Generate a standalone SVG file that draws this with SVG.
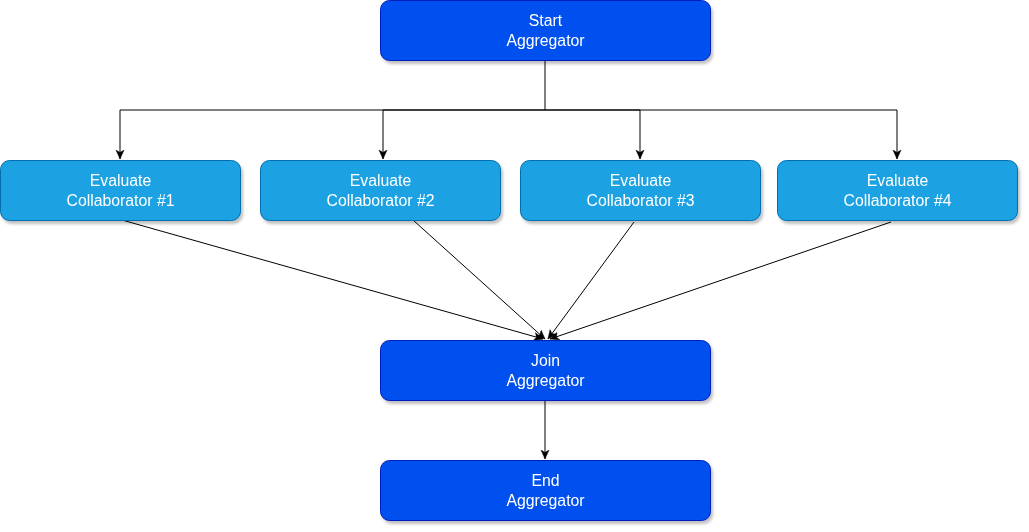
<svg xmlns="http://www.w3.org/2000/svg" width="1029" height="532" viewBox="0 0 1029 532">
<style>
.agg{fill:#0050EF;stroke:#001DBC;stroke-width:1}
.col{fill:#1BA1E2;stroke:#006EAF;stroke-width:1}
.t{font-family:"Liberation Sans",Arial,sans-serif;font-size:15.8px;fill:#ffffff;text-anchor:middle}
.e{fill:none;stroke:#000000;stroke-width:1}
</style>
<defs>
<filter id="sh" x="-10%" y="-10%" width="120%" height="140%">
<feGaussianBlur in="SourceAlpha" stdDeviation="1.5"/>
<feOffset dx="2" dy="3" result="b"/>
<feComponentTransfer><feFuncA type="linear" slope="0.25"/></feComponentTransfer>
<feMerge><feMergeNode/><feMergeNode in="SourceGraphic"/></feMerge>
</filter>
<marker id="arr" viewBox="0 0 10 10" refX="9" refY="5" markerWidth="10" markerHeight="10" markerUnits="userSpaceOnUse" orient="auto">
<path d="M0,1 L9,5 L0,9 L2.5,5 Z" fill="#000" stroke="#000" stroke-width="0.5"/>
</marker>
</defs>
<g id="connectors">
<path class="e" d="M545,60 V110 H120 V159" marker-end="url(#arr)"/>
<path class="e" d="M545,110 H383 V159" marker-end="url(#arr)"/>
<path class="e" d="M545,110 H640 V159" marker-end="url(#arr)"/>
<path class="e" d="M545,110 H897 V159" marker-end="url(#arr)"/>
<path class="e" d="M122,220 L543,339" marker-end="url(#arr)"/>
<path class="e" d="M413,220 L545,339" marker-end="url(#arr)"/>
<path class="e" d="M634,222 L548,339" marker-end="url(#arr)"/>
<path class="e" d="M891,222 L550,339" marker-end="url(#arr)"/>
<path class="e" d="M545,400 V459" marker-end="url(#arr)"/>
</g>
<g id="start" filter="url(#sh)">
<rect class="agg" x="380.5" y="0.5" width="330" height="60" rx="9"/>
<text class="t" x="545.5" y="26">Start</text>
<text class="t" x="545.5" y="46">Aggregator</text>
</g>
<g id="collab1" filter="url(#sh)">
<rect class="col" x="0.5" y="160.5" width="240" height="60" rx="9"/>
<text class="t" x="120.5" y="186">Evaluate</text>
<text class="t" x="120.5" y="206">Collaborator #1</text>
</g>
<g id="collab2" filter="url(#sh)">
<rect class="col" x="260.5" y="160.5" width="240" height="60" rx="9"/>
<text class="t" x="380.5" y="186">Evaluate</text>
<text class="t" x="380.5" y="206">Collaborator #2</text>
</g>
<g id="collab3" filter="url(#sh)">
<rect class="col" x="520.5" y="160.5" width="240" height="60" rx="9"/>
<text class="t" x="640.5" y="186">Evaluate</text>
<text class="t" x="640.5" y="206">Collaborator #3</text>
</g>
<g id="collab4" filter="url(#sh)">
<rect class="col" x="777.5" y="160.5" width="240" height="60" rx="9"/>
<text class="t" x="897.5" y="186">Evaluate</text>
<text class="t" x="897.5" y="206">Collaborator #4</text>
</g>
<g id="join" filter="url(#sh)">
<rect class="agg" x="380.5" y="340.5" width="330" height="60" rx="9"/>
<text class="t" x="545.5" y="366">Join</text>
<text class="t" x="545.5" y="386">Aggregator</text>
</g>
<g id="end" filter="url(#sh)">
<rect class="agg" x="380.5" y="460.5" width="330" height="60" rx="9"/>
<text class="t" x="545.5" y="486">End</text>
<text class="t" x="545.5" y="506">Aggregator</text>
</g>
</svg>
